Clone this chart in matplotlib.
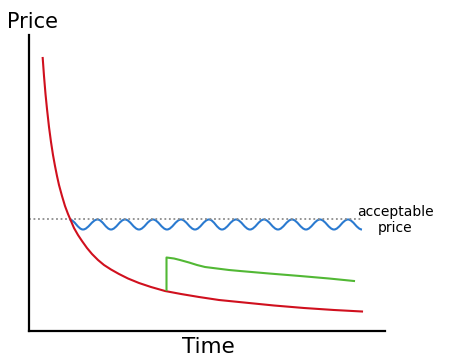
import matplotlib.pyplot as plt
from matplotlib.path import Path
from matplotlib.patches import PathPatch

# values (time / price in arbitrary units)
red_t = [13.7, 15, 16.5, 18, 20, 22, 24, 26, 28, 30, 33, 36, 39, 42, 45, 49, 53, 58, 63, 69,
         75, 82, 90, 99, 110, 122, 136, 152, 170, 190, 215, 245, 275, 305, 333]
red_p = [273, 255, 237, 222, 204, 189, 176, 165, 155, 146, 135, 125, 117, 110, 103, 96, 90, 83, 77, 71,
         66, 61.5, 57, 52.5, 48, 44, 40, 37, 34, 31, 28.5, 25.5, 23, 21, 19.5]

wave_t = [40.5, 54, 68.5, 82, 96, 110, 124, 138, 152, 166, 180, 193, 207, 221,
          235, 249, 263, 277, 291, 305, 319, 333]
wave_p = [111.5, 101.5] * 11

green_t = [137.5, 137.5, 145, 151, 160, 168, 176, 184, 200, 211, 240, 271, 300, 325]
green_p = [41, 73.5, 72.5, 71, 68.5, 66, 64, 63, 61, 60, 57.5, 55, 52.5, 50]

accept_price = 112
accept_t = [0, 333]

fig = plt.figure(figsize=(4.62, 3.6), dpi=100)
ax = fig.add_axes([29 / 462, 1 - 331 / 360, 356 / 462, 296 / 360])
ax.set_xlim(0, 356)
ax.set_ylim(0, 296)

ax.plot(accept_t, [accept_price] * 2, color='#8c8c8c', lw=1.3, ls=(0, (1, 1.5)))
ax.plot(red_t, red_p, color='#d0101e', lw=1.5, solid_joinstyle='round')
ax.plot(green_t, green_p, color='#52b835', lw=1.5)

# smooth wave through the read peaks and troughs
verts = [(wave_t[0], wave_p[0])]
codes = [Path.MOVETO]
for i in range(1, len(wave_t)):
    h = wave_t[i] - wave_t[i - 1]
    verts += [(wave_t[i - 1] + 0.364 * h, wave_p[i - 1]),
              (wave_t[i] - 0.364 * h, wave_p[i]),
              (wave_t[i], wave_p[i])]
    codes += [Path.CURVE4] * 3
ax.add_patch(PathPatch(Path(verts, codes), fill=False, edgecolor='#2a7ad0', lw=1.5))

for s in ['top', 'right']:
    ax.spines[s].set_visible(False)
for s in ['left', 'bottom']:
    ax.spines[s].set_linewidth(1.6)
ax.set_xticks([])
ax.set_yticks([])

fig.text(7 / 462, 1 - 28 / 360, 'Price', fontsize=15, va='baseline', ha='left')
fig.text(208 / 462, 1 - 353 / 360, 'Time', fontsize=15.5, va='baseline', ha='center')
fig.text(395 / 462, 1 - 220 / 360, 'acceptable\nprice', fontsize=10, va='center',
         ha='center', multialignment='center')

fig.savefig('out.png', dpi=100)
